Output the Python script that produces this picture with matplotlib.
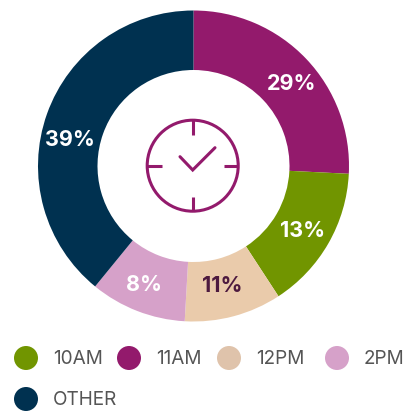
"""Arrival time donut chart."""

import matplotlib
matplotlib.use("Agg")
import matplotlib.pyplot as plt
import numpy as np
from matplotlib.patches import Circle

plt.rcParams["font.family"] = ["Inter", "DejaVu Sans"]

# wedge sizes as drawn in the picture (they differ a bit from the printed labels)
shares = [25.8, 15.0, 10.1, 10.0, 39.1]
labels = ["29%", "13%", "11%", "8%", "39%"]
colors = ["#931a6c", "#719500", "#eacbab", "#d6a1c9", "#003150"]
label_colors = ["white", "white", "#4d1a3f", "white", "white"]

legend_names = ["10AM", "11AM", "12PM", "2PM", "OTHER"]
legend_colors = ["#719500", "#931a6c", "#dfc3ab", "#d6a1c9", "#003150"]

W, H = 405, 411
fig = plt.figure(figsize=(W / 100, H / 100), dpi=100)
ax = fig.add_axes([0, 0, 1, 1])


def py(y):
    # picture rows count from the top, the axes from the bottom
    return H - y


cx, cy, r, hole = 193.5, 166.0, 155.5, 96.0
ax.pie(
    shares,
    colors=colors,
    startangle=90,
    counterclock=False,
    center=(cx, py(cy)),
    radius=r,
    wedgeprops={"width": r - hole, "linewidth": 0},
    frame=True,
)
ax.set_xlim(0, W)
ax.set_ylim(0, H)
ax.set_aspect("equal")
ax.axis("off")

# label placement: clockwise angle from the top and distance from the centre
label_angle = [50, 120.8, 166.4, 202.4, 282]
label_dist = [128, 127, 123, 129, 126]
for txt, col, ang, dist in zip(labels, label_colors, label_angle, label_dist):
    a = np.deg2rad(ang)
    ax.text(
        cx + dist * np.sin(a),
        py(cy - dist * np.cos(a)),
        txt,
        color=col,
        fontsize=15.5,
        fontweight="bold",
        ha="center",
        va="center",
    )

# clock icon
plum = "#931a6c"
icx, icy = 192.7, 165.7
ax.add_patch(Circle((icx, py(icy)), 45.5, fill=False, ec=plum, lw=2.2))
for dx, dy in [(0, -1), (1, 0), (0, 1), (-1, 0)]:
    ax.plot(
        [icx + 31 * dx, icx + 45.5 * dx],
        [py(icy + 31 * dy), py(icy + 45.5 * dy)],
        color=plum,
        lw=2.2,
        solid_capstyle="butt",
    )
ax.plot(
    [180, 192.7, 215],
    [py(156.7), py(170), py(147.7)],
    color=plum,
    lw=2.2,
    solid_capstyle="round",
    solid_joinstyle="miter",
)

# legend, four on the first row and OTHER below
row_x = [26, 129, 229, 337, 26]
row_y = [358, 358, 358, 358, 399]
for name, col, x, y in zip(legend_names, legend_colors, row_x, row_y):
    ax.add_patch(Circle((x, py(y)), 12, fc=col, ec="none"))
    ax.text(
        x + 27,
        py(y + 1),
        name,
        color="#555555",
        fontsize=13.7,
        fontweight="normal",
        ha="left",
        va="center",
    )

fig.savefig("out.png", dpi=100)
